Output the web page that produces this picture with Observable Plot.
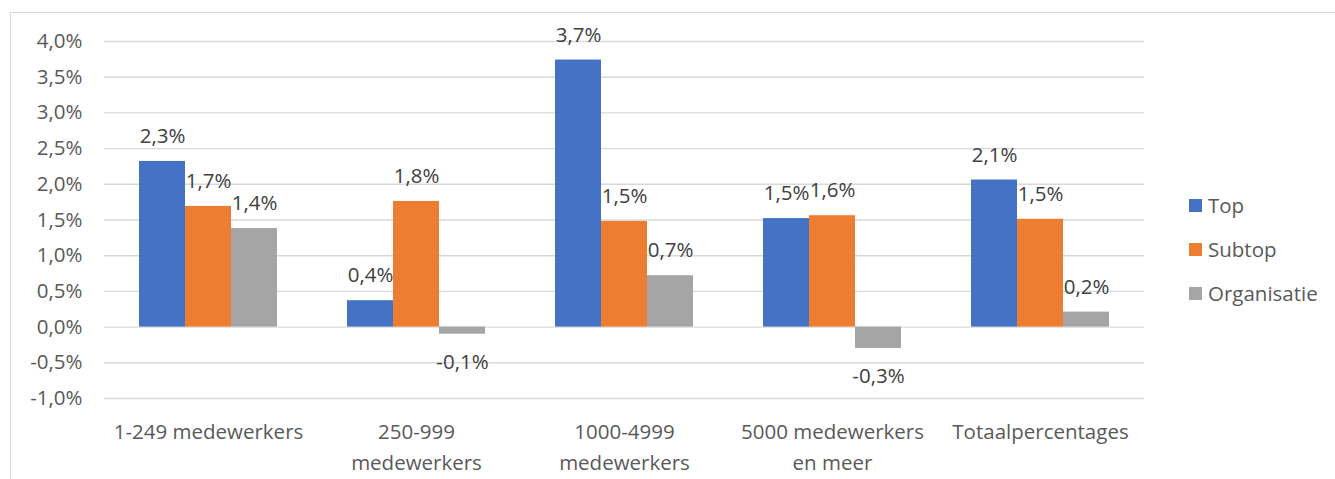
<!DOCTYPE html>
<html>
<head>
<meta charset="utf-8">
<script src="https://cdn.jsdelivr.net/npm/d3@7"></script>
<script src="https://cdn.jsdelivr.net/npm/@observablehq/plot@0.6"></script>
<style>
  html, body { margin: 0; padding: 0; background: #fff; }
  #wrap { position: relative; width: 1335px; height: 479px; overflow: hidden; font-family: "Open Sans", sans-serif; }
  #wrap svg { position: absolute; left: 0; top: 0; }
  #frame { position: absolute; left: 10px; top: 12px; right: -2px; bottom: -2px;
           border-top: 1.3px solid #d9d9d9; border-left: 1.3px solid #d9d9d9; pointer-events: none; }
  #legend { position: absolute; left: 1189px; top: 190px; }
  .item { display: flex; align-items: center; height: 30px; margin-bottom: 14px;
          font-size: 20.5px; color: #595959; }
  .sw { width: 13px; height: 13px; margin-right: 6px; }
</style>
</head>
<body>
<div id="wrap"><div id="frame"></div><div id="legend"></div></div>
<script>
// Company-size categories and their axis labels (wrapped the way they are shown)
const categories = ["1-249 medewerkers", "250-999 medewerkers", "1000-4999 medewerkers", "5000 medewerkers en meer", "Totaalpercentages"];
const categoryLabels = ["1-249 medewerkers", "250-999\nmedewerkers", "1000-4999\nmedewerkers", "5000 medewerkers\nen meer", "Totaalpercentages"];

// Series
const series = ["Top", "Subtop", "Organisatie"];
const seriesColors = ["#4472C4", "#ED7D31", "#A5A5A5"];

// Percentages per category
const topPct = [2.32, 0.37, 3.74, 1.52, 2.06];
const subtopPct = [1.69, 1.76, 1.48, 1.56, 1.51];
const organisatiePct = [1.38, -0.10, 0.72, -0.30, 0.21];

// Value axis ticks
const yTicks = [-1, -0.5, 0, 0.5, 1, 1.5, 2, 2.5, 3, 3.5, 4];

const seriesValues = [topPct, subtopPct, organisatiePct];
const rows = [];
categories.forEach((c, i) => {
  series.forEach((s, j) => rows.push({category: c, series: s, value: seriesValues[j][i]}));
});

const pct = v => v.toFixed(1).replace(".", ",") + "%";

const textFont = {fontFamily: "Open Sans", fontSize: 20.5};

const chart = Plot.plot({
  width: 1335,
  height: 479,
  marginLeft: 104,
  marginRight: 191,
  marginTop: 41,
  marginBottom: 81,
  style: {fontFamily: "Open Sans", fontSize: "20.5px", color: "#595959", background: "transparent"},
  fx: {domain: categories, padding: 0, label: null},
  x: {domain: series, paddingInner: 0, paddingOuter: 0.746, axis: null},
  y: {domain: [-1, 4], label: null},
  color: {domain: series, range: seriesColors},
  marks: [
    Plot.gridY(yTicks, {stroke: "#d9d9d9", strokeOpacity: 1, strokeWidth: 1.4}),
    Plot.axisY(yTicks, {tickSize: 0, tickPadding: 22, tickFormat: pct, fill: "#595959", label: null}),
    Plot.axisFx({
      anchor: "bottom",
      tickSize: 0, tickPadding: 18, lineHeight: 1.52, label: null, fill: "#595959",
      tickFormat: d => categoryLabels[categories.indexOf(d)]
    }),
    Plot.barY(rows, {fx: "category", x: "series", y: "value", fill: "series"}),
    Plot.text(rows.filter(d => d.value >= 0), {
      fx: "category", x: "series", y: "value", text: d => pct(d.value),
      dy: -25, fill: "#404040", ...textFont
    }),
    Plot.text(rows.filter(d => d.value < 0), {
      fx: "category", x: "series", y: "value", text: d => pct(d.value),
      dy: 28, fill: "#404040", ...textFont
    })
  ]
});

const wrap = document.getElementById("wrap");
wrap.insertBefore(chart, wrap.firstChild);

// Legend to the right of the plot
const legend = document.getElementById("legend");
series.forEach((s, i) => {
  const item = document.createElement("div");
  item.className = "item";
  const sw = document.createElement("span");
  sw.className = "sw";
  sw.style.background = seriesColors[i];
  const label = document.createElement("span");
  label.textContent = s;
  item.appendChild(sw);
  item.appendChild(label);
  legend.appendChild(item);
});
</script>
</body>
</html>
